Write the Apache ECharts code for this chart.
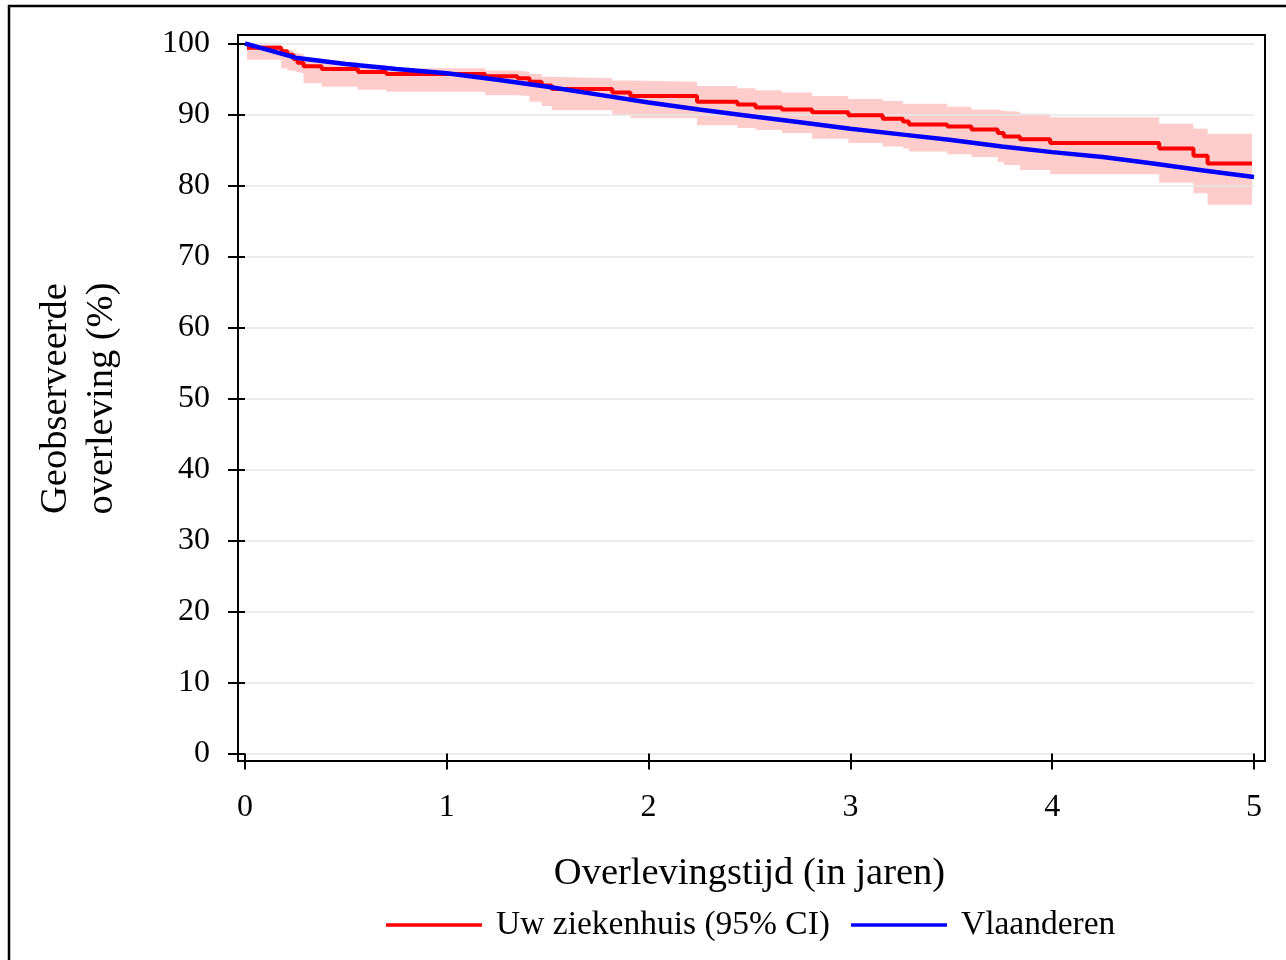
<!DOCTYPE html>
<html>
<head>
<meta charset="utf-8">
<script src="https://cdn.jsdelivr.net/npm/echarts@6/dist/echarts.min.js"></script>
<style>
    html, body { margin: 0; padding: 0; background: #fff; }
    #chart { width: 1286px; height: 960px; }
</style>
</head>
<body>
<div id="chart"></div>
<script>
    // Uw ziekenhuis: stap-tijden (jaren), overleving en 95% CI
    const stepYears = [0.01, 0.18, 0.21, 0.24, 0.26, 0.29, 0.38, 0.56, 0.70, 1.19, 1.35, 1.41, 1.47, 1.52, 1.82, 1.91,
        2.24, 2.44, 2.53, 2.66, 2.81, 2.99, 3.16, 3.26, 3.29, 3.48, 3.60, 3.73, 3.76, 3.84, 3.99, 4.53, 4.70, 4.77, 4.99]
    const hospital = [99.4, 98.9, 98.4, 97.8, 97.3, 96.8, 96.4, 96.0, 95.7, 95.4, 95.1, 94.6, 94.1, 93.6, 93.1, 92.6,
        91.8, 91.4, 91.0, 90.7, 90.3, 89.9, 89.4, 89.0, 88.6, 88.3, 87.9, 87.4, 86.9, 86.5, 86.0, 85.2, 84.2, 83.1, 83.1]
    const ciUpper = [100, 99.2, 99.0, 98.7, 98.5, 97.9, 97.4, 97.0, 96.5, 96.2, 96.0, 95.7, 95.3, 95.1, 94.8, 94.6,
        94.0, 93.7, 93.4, 93.1, 92.6, 92.2, 91.9, 91.5, 91.5, 91.1, 90.7, 90.5, 90.4, 90.1, 89.6, 88.7, 88.0, 87.3, 87.3]
    const ciLower = [97.7, 96.5, 96.2, 96.0, 95.8, 94.4, 93.9, 93.5, 93.2, 92.7, 92.6, 91.8, 91.2, 90.6, 89.9, 89.5,
        88.5, 88.1, 87.8, 87.4, 86.6, 86.0, 85.5, 85.2, 84.8, 84.4, 84.0, 83.3, 82.9, 82.2, 81.6, 80.4, 78.9, 77.3, 77.3]

    // Vlaanderen
    const flandersYears = [0, 0.1, 0.25, 0.5, 0.75, 1.0, 1.25, 1.5, 1.75, 2.0, 2.25, 2.5, 2.75, 3.0, 3.25, 3.5, 3.75,
        4.0, 4.25, 4.5, 4.75, 5.0]
    const flanders = [100, 99.2, 98.0, 97.1, 96.4, 95.8, 94.9, 93.9, 92.8, 91.7, 90.7, 89.8, 88.9, 88.0, 87.2, 86.4, 85.5,
        84.7, 84.0, 83.1, 82.1, 81.2]

    const xTicks = [0, 1, 2, 3, 4, 5]
    const yTicks = [0, 10, 20, 30, 40, 50, 60, 70, 80, 90, 100]

    const font = 'Liberation Serif, Times New Roman, serif'

    var myChart = echarts.init(document.getElementById('chart'));
    var option;
    option = {
        animation: false,
        backgroundColor: '#fff',
        grid: {
            left: 245,
            right: 32,
            top: 43.5,
            bottom: 206.5
        },
        xAxis: {
            type: 'value',
            min: xTicks[0],
            max: xTicks[xTicks.length - 1],
            interval: 1,
            offset: 7.5,
            name: 'Overlevingstijd (in jaren)',
            nameLocation: 'middle',
            nameGap: 93,
            nameTextStyle: {fontFamily: font, fontSize: 38.5, color: '#000'},
            axisLine: {show: false},
            axisTick: {length: 16, lineStyle: {color: '#000', width: 2}},
            axisLabel: {margin: 31, fontFamily: font, fontSize: 32, color: '#000'},
            splitLine: {show: false}
        },
        yAxis: {
            type: 'value',
            min: yTicks[0],
            max: yTicks[yTicks.length - 1],
            interval: 10,
            offset: 7,
            name: 'Geobserveerde\noverleving (%)',
            nameLocation: 'middle',
            nameGap: 113,
            nameTextStyle: {fontFamily: font, fontSize: 38.5, color: '#000', lineHeight: 46},
            axisLine: {show: false},
            axisTick: {length: 17, lineStyle: {color: '#000', width: 2}},
            axisLabel: {margin: 28, fontFamily: font, fontSize: 32, color: '#000'},
            splitLine: {show: true, lineStyle: {color: '#e6e6e6', width: 1.5}}
        },
        legend: {
            data: ['Uw ziekenhuis (95% CI)', 'Vlaanderen'],
            left: 386,
            top: 908,
            padding: 0,
            icon: 'rect',
            itemWidth: 96,
            itemHeight: 3.5,
            itemGap: 21,
            textStyle: {fontFamily: font, fontSize: 33.5, color: '#000', padding: [0, 0, 0, 9]}
        },
        graphic: [
            {
                type: 'rect',
                z: 100,
                shape: {x: 238, y: 35, width: 1027, height: 726},
                style: {fill: 'none', stroke: '#000', lineWidth: 2}
            },
            {
                type: 'polyline',
                z: 100,
                shape: {points: [[9, 960], [9, 6], [1286, 6]]},
                style: {fill: 'none', stroke: '#000', lineWidth: 2.5}
            }
        ],
        series: [
            {
                // bovengrens CI, roze gevuld tot de as
                name: 'ci_upper',
                type: 'line',
                step: 'end',
                symbol: 'none',
                silent: true,
                lineStyle: {opacity: 0},
                areaStyle: {color: '#ffcccc', opacity: 1, origin: 'start'},
                data: stepYears.map((t, i) => [t, ciUpper[i]]),
                z: -2
            },
            {
                // ondergrens CI, wit gevuld zodat alleen de band overblijft
                name: 'ci_lower',
                type: 'line',
                step: 'end',
                symbol: 'none',
                silent: true,
                lineStyle: {opacity: 0},
                areaStyle: {color: '#ffffff', opacity: 1, origin: 'start'},
                data: stepYears.map((t, i) => [t, ciLower[i]]),
                z: -1
            },
            {
                name: 'Uw ziekenhuis (95% CI)',
                type: 'line',
                step: 'end',
                symbol: 'none',
                color: '#ff0000',
                lineStyle: {color: '#ff0000', width: 4},
                data: stepYears.map((t, i) => [t, hospital[i]]),
                z: 3
            },
            {
                name: 'Vlaanderen',
                type: 'line',
                symbol: 'none',
                color: '#0000ff',
                lineStyle: {color: '#0000ff', width: 4.5},
                data: flandersYears.map((t, i) => [t, flanders[i]]),
                z: 4
            }
        ]
    };
    option && myChart.setOption(option);
</script>
</body>
</html>
